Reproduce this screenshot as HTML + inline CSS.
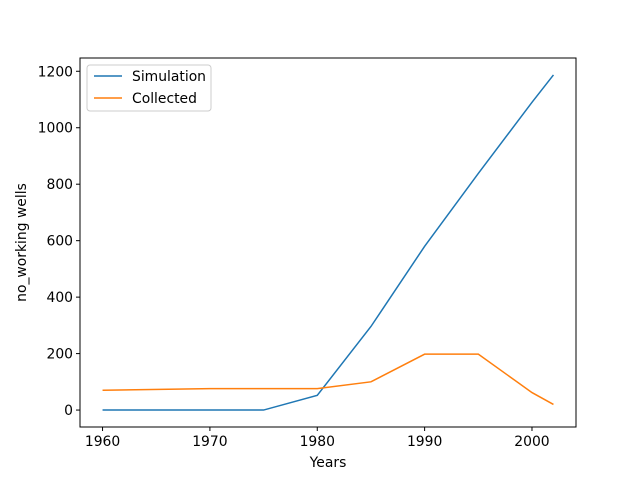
<!DOCTYPE html>
<html><head><meta charset="utf-8"><style>
body{margin:0;background:#fff;}
svg{display:block;font-family:"DejaVu Sans","Liberation Sans",sans-serif;}
</style></head><body>
<svg id="chart" width="640" height="480"></svg>
<script>
const years = [1960, 1970, 1975, 1980, 1985, 1990, 1995, 2000, 2002];
const simulation = [0, 0, 0, 52, 296, 580, 838, 1090, 1187];
const collectedYears = [1960, 1970, 1980, 1985, 1990, 1995, 2000, 2002];
const collected = [70, 76, 76, 100, 198, 198, 62, 20];
const xTicks = [1960, 1970, 1980, 1990, 2000];
const yTicks = [0, 200, 400, 600, 800, 1000, 1200];

const L=80,R=576,T=58,B=427;
const xMin=1957.9,xMax=2004.1,yMin=-60,yMax=1247;
const sx=v=>L+(v-xMin)/(xMax-xMin)*(R-L);
const sy=v=>B-(v-yMin)/(yMax-yMin)*(B-T);
const svg=document.getElementById('chart');
const NS='http://www.w3.org/2000/svg';
const FS=13.9;
function mk(tag,attrs,parent){const e=document.createElementNS(NS,tag);for(const k in attrs)e.setAttribute(k,attrs[k]);(parent||svg).appendChild(e);return e;}

const frame=mk('rect',{x:L,y:T,width:R-L,height:B-T,fill:'none',stroke:'#000','stroke-width':1});



xTicks.forEach(t=>{
  const x=sx(t);
  const tk=mk('line',{x1:x,y1:B,x2:x,y2:B+4,stroke:'#000'});
  
  
  const tx=mk('text',{x:x,y:B+19,'text-anchor':'middle','font-size':FS});
  tx.textContent=t;
  
  
});
yTicks.forEach(t=>{
  const y=sy(t);
  const tk=mk('line',{x1:L-4,y1:y,x2:L,y2:y,stroke:'#000'});
  
  
  const tx=mk('text',{x:L-7,y:y+5,'text-anchor':'end','font-size':FS});
  tx.textContent=t;
  
  
});

const xl=mk('text',{x:(L+R)/2,y:467,'text-anchor':'middle','font-size':FS});
xl.textContent='Years';


const yl=mk('text',{x:0,y:0,'text-anchor':'middle','font-size':FS,transform:`translate(26,${(T+B)/2}) rotate(-90)`});
yl.textContent='no_working wells';



function line(xs,ys,color,name){
  const pts=xs.map((x,i)=>sx(x)+','+sy(ys[i])).join(' ');
  const p=mk('polyline',{points:pts,fill:'none',stroke:color,'stroke-width':1.5});
  
  
}
line(years,simulation,'#1f77b4','simulation-line');
line(collectedYears,collected,'#ff7f0e','collected-line');

const lg=mk('g',{});


mk('rect',{x:87,y:65,width:124,height:46,rx:3,fill:'#fff',stroke:'#ccc'},lg);
[['Simulation','#1f77b4',76],['Collected','#ff7f0e',98]].forEach(([n,c,y])=>{
  const g=mk('g',{},lg);
  
  
  mk('line',{x1:94,y1:y,x2:122,y2:y,stroke:c,'stroke-width':1.5},g);
  const t=mk('text',{x:132,y:y+5,'font-size':FS},g);
  t.textContent=n;
});
</script>
</body></html>
